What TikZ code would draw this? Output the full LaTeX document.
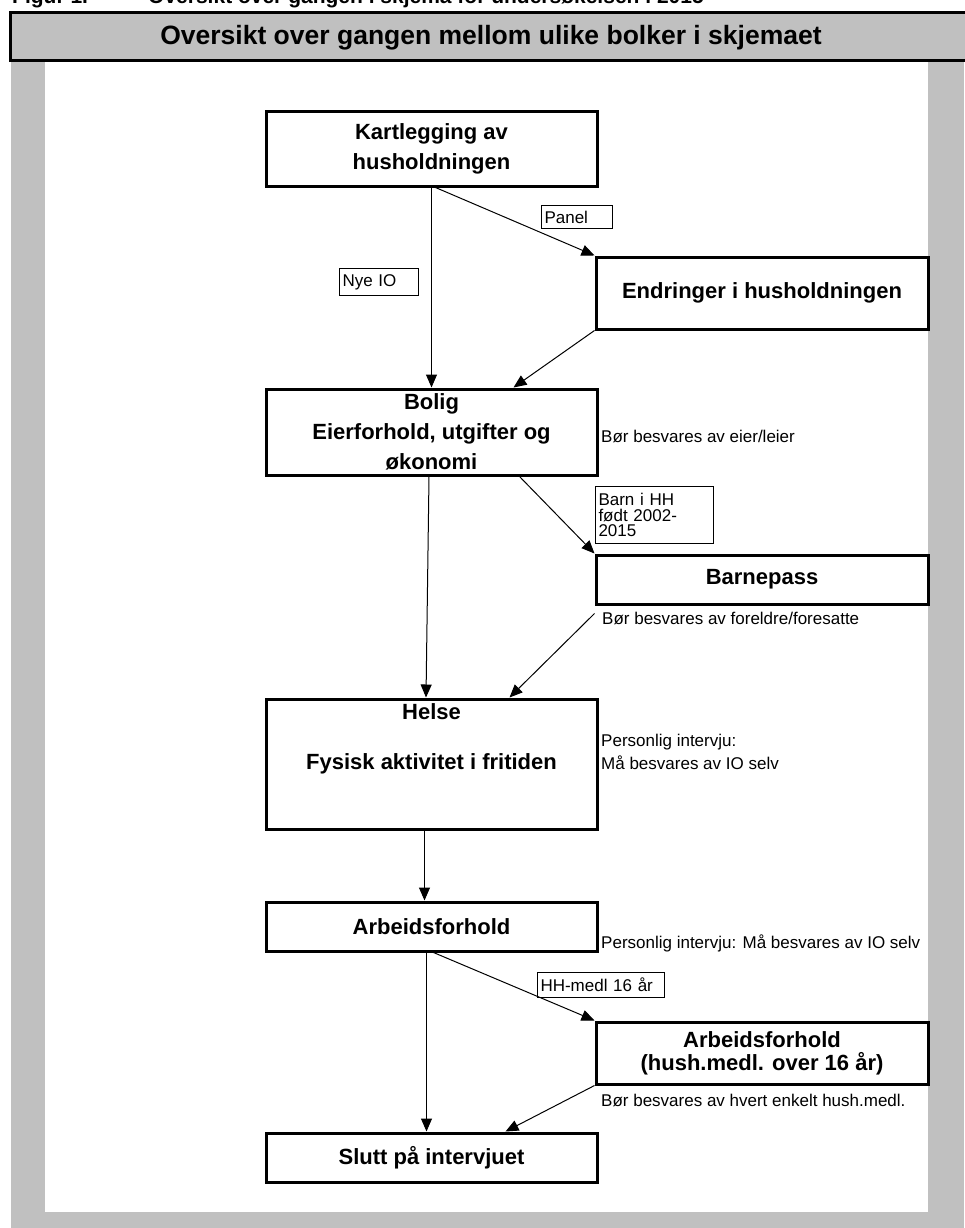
\documentclass[tikz,border=0pt]{standalone}
\usepackage{fontspec}
\setmainfont{Liberation Sans}
\usetikzlibrary{arrows.meta}

\definecolor{framegray}{HTML}{C0C0C0}

\tikzset{
  box/.style={draw, line width=3pt, align=center, inner sep=0pt,
    font=\fontsize{22}{27}\selectfont\bfseries},
  leftbox/.style={box, minimum width=331pt},
  rightbox/.style={box, minimum width=332pt},
  note/.style={anchor=west, inner sep=0pt, align=left,
    font=\fontsize{17}{20}\selectfont},
  tag/.style={draw, line width=1pt, anchor=north west, inner xsep=3pt,
    inner ysep=2pt, align=left, font=\fontsize{17}{15.5}\selectfont},
  flow/.style={line width=1pt, -{Triangle[length=13pt,width=11pt]}}
}

\begin{document}
\begin{tikzpicture}[x=1pt,y=-1pt]
  \useasboundingbox (0,0) rectangle (964,1228);
  % frame and heading
  \fill[framegray] (11,61) rectangle (964,1228);
  \fill[white] (45,61) rectangle (928,1212);
  \draw[line width=3pt, fill=framegray] (10,13) rectangle (975,61);
  \node[anchor=base west, inner sep=0pt, font=\fontsize{21}{25}\selectfont\bfseries]
    (figno) at (12,4) {Figur 1.};
  \node[anchor=base west, inner sep=0pt, font=\fontsize{21}{25}\selectfont\bfseries]
    (figtext) at (148,4) {Oversikt over gangen i skjema for undersøkelsen i 2015};
  \node[font=\fontsize{26.5}{30}\selectfont\bfseries] (title) at (491,38)
    {Oversikt over gangen mellom ulike bolker i skjemaet};

  % blocks
  \node[leftbox, minimum height=74pt] (kart) at (431.5,149) {Kartlegging av\\[3pt]husholdningen};
  \node[rightbox, minimum height=72pt] (endr) at (762,293) {Endringer i husholdningen};
  \node[leftbox, minimum height=86pt] (bolig) at (431.5,432)
    {Bolig\\[3pt]Eierforhold, utgifter og\\[3pt]økonomi};
  \node[rightbox, minimum height=49pt] (barne) at (762,579.5) {Barnepass};
  \node[leftbox, minimum height=130pt] (helse) at (431.5,764)
    {Helse\\[23pt]Fysisk aktivitet i fritiden\\[27pt]\mbox{}};
  \node[leftbox, minimum height=49pt] (arb) at (431.5,926.5) {Arbeidsforhold};
  \node[rightbox, minimum height=62pt] (arb2) at (762,1053)
    {Arbeidsforhold\\[-4pt](hush.medl. over 16 år)};
  \node[leftbox, minimum height=49pt] (slutt) at (431.5,1157.5) {Slutt på intervjuet};

  % notes
  \node[note] (eier) at (601,436) {Bør besvares av eier/leier};
  \node[note] (foreldre) at (602,618) {Bør besvares av foreldre/foresatte};
  \node[note] (personlig) at (601,752) {Personlig intervju:\\[3pt]Må besvares av IO selv};
  \node[note] (personlig2) at (601,943) {Personlig intervju: Må besvares av IO selv};
  \node[note] (hvert) at (601,1100) {Bør besvares av hvert enkelt hush.medl.};

  % conditions
  \node[tag, text width=65pt, minimum height=23pt] (panel) at (541,205) {Panel};
  \node[tag, text width=73pt, minimum height=27pt] (nyeio) at (339,268) {Nye IO};
  \node[tag, text width=112pt, minimum height=57pt] (barnhh) at (595,486)
    {Barn i HH\\født 2002-\\2015};
  \node[tag, text width=121pt, minimum height=25pt] (hhmedl) at (537,972) {HH-medl 16 år};

  % arrows
  \draw[flow] (kart.south) -- (bolig.north);
  \draw[flow] ([xshift=4pt]kart.south) -- (endr.north west);
  \draw[flow] (endr.south west) -- ([xshift=82pt]bolig.north);
  \draw[flow] ([xshift=-2.5pt]bolig.south) -- ([xshift=-5.5pt]helse.north);
  \draw[flow] ([xshift=88pt]bolig.south) -- (barne.north west);
  \draw[flow] ([yshift=-8pt]barne.south west) -- ([xshift=78pt]helse.north);
  \draw[flow] ([xshift=-7pt]helse.south) -- ([xshift=-7pt]arb.north);
  \draw[flow] ([xshift=-5pt]arb.south) -- ([xshift=-5pt]slutt.north);
  \draw[flow] ([xshift=2pt]arb.south) -- (arb2.north west);
  \draw[flow] (arb2.south west) -- ([xshift=74pt]slutt.north);
\end{tikzpicture}
\end{document}
